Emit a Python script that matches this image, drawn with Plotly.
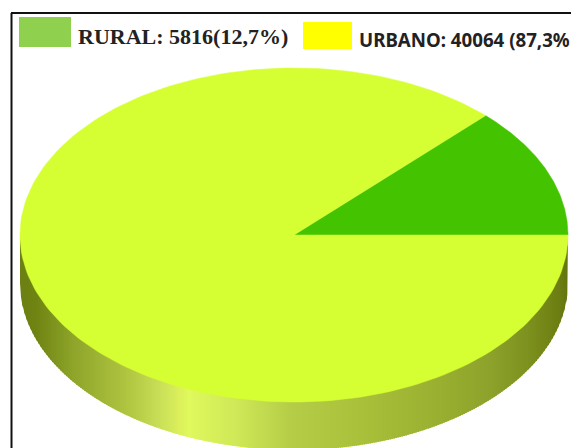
import numpy as np
import plotly.graph_objects as go

categories = ["RURAL", "URBANO"]
values = [5816, 40064]
legend_labels = ["RURAL: 5816(12,7%)", "URBANO: 40064 (87,3%"]
top_colors = ["#44C400", "#D6FF33"]
swatch_colors = ["#8FD14F", "#FFFF00"]

W, H = 571, 448
CX, CY, A, B, DEPTH = 294, 235, 274, 167, 48

# side-wall gradient: pixel x -> colour
grad_x = [20, 36, 73, 127, 164, 180, 189, 236, 291, 364, 455, 491, 527, 556, 568]
grad_rgb = [(108,128,20), (111,132,18), (142,165,42), (176,197,64), (205,227,90), (220,241,90),
            (224,249,93), (207,233,88), (182,206,71), (169,192,58), (150,172,47), (140,162,43),
            (125,146,31), (111,128,18), (100,116,16)]

fig = go.Figure()

# side wall: overlapping vertical bands following the lower edge of the ellipse
edges = np.arange(CX - A, CX + A, 2.0)
for x0 in edges:
    x1 = min(x0 + 3.0, CX + A)
    xs = np.linspace(x0, x1, 4)
    yt = CY + B * np.sqrt(np.clip(1 - ((xs - CX) / A) ** 2, 0, 1))
    rgb = [np.interp(x0 + 1, grad_x, [c[i] for c in grad_rgb]) for i in range(3)]
    col = "rgb(%d,%d,%d)" % tuple(rgb)
    fig.add_trace(go.Scatter(
        x=np.r_[xs, xs[::-1]], y=np.r_[yt - 2, (yt + DEPTH)[::-1]],
        mode="lines", fill="toself", fillcolor=col,
        line=dict(width=0), hoverinfo="skip", showlegend=False))

# top face: slice angles come from the values
start = 0.0
total = sum(values)
for name, v, c in zip(categories, values, top_colors):
    end = start + 360.0 * v / total
    t = np.radians(np.linspace(start, end, 200))
    x = np.r_[CX, CX + A * np.cos(t), CX]
    y = np.r_[CY, CY - B * np.sin(t), CY]
    fig.add_trace(go.Scatter(x=x, y=y, mode="lines", fill="toself", fillcolor=c,
                             line=dict(color=c, width=0.5), name=name, showlegend=False))
    start = end

shapes = [
    dict(type="rect", x0=19, x1=71, y0=17, y1=47, fillcolor=swatch_colors[0], line_width=0),
    dict(type="rect", x0=303, x1=352, y0=22, y1=49, fillcolor=swatch_colors[1], line_width=0),
    dict(type="line", x0=11, x1=571, y0=13, y1=13, line=dict(color="#111111", width=2)),
    dict(type="line", x0=11.5, x1=11.5, y0=13, y1=448, line=dict(color="#111111", width=2)),
]
annotations = [
    dict(x=76, y=36, text="<b>%s</b>" % legend_labels[0], showarrow=False, xanchor="left", yanchor="middle",
         font=dict(family="Liberation Serif", size=22, color="#222222")),
    dict(x=357, y=39, text="<b>%s</b>" % legend_labels[1], showarrow=False, xanchor="left", yanchor="middle",
         font=dict(family="Noto Sans", size=18.7, color="#222222")),
]
fig.update_layout(
    width=W, height=H, margin=dict(l=0, r=0, t=0, b=0),
    paper_bgcolor="white", plot_bgcolor="white", showlegend=False,
    xaxis=dict(range=[0, W], visible=False, fixedrange=True),
    yaxis=dict(range=[H, 0], visible=False, fixedrange=True),
    shapes=shapes, annotations=annotations,
)
fig.write_html("out.html", config={"displayModeBar": False},
               post_script="document.body.style.margin='0';document.documentElement.style.overflow='hidden';")
